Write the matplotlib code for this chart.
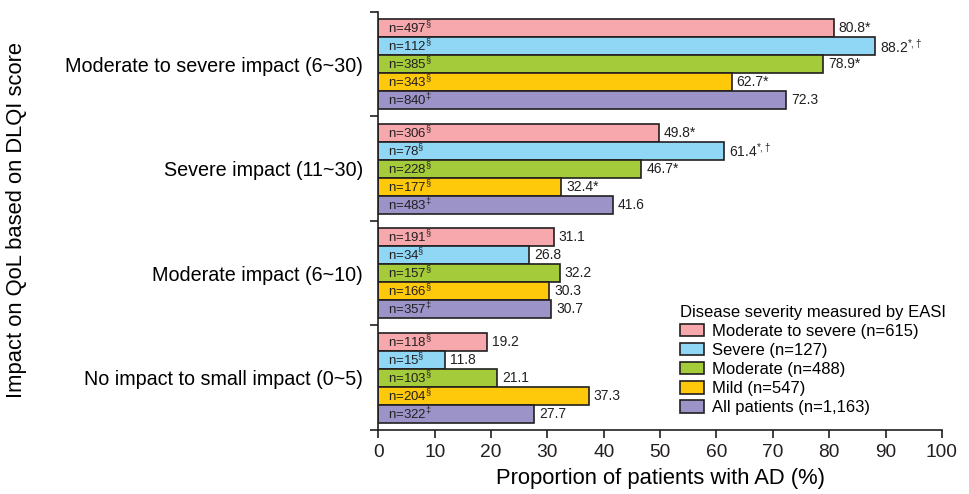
import numpy as np
import matplotlib
matplotlib.use('Agg')
import matplotlib.pyplot as plt
from matplotlib.patches import Patch

# ----------------------------
# Data
# ----------------------------
categories = ["Moderate to severe impact (6~30)", "Severe impact (11~30)",
              "Moderate impact (6~10)", "No impact to small impact (0~5)"]

series_names = ["Moderate to severe (n=615)", "Severe (n=127)", "Moderate (n=488)",
                "Mild (n=547)", "All patients (n=1,163)"]

mod_severe = [80.8, 49.8, 31.1, 19.2]
severe = [88.2, 61.4, 26.8, 11.8]
moderate = [78.9, 46.7, 32.2, 21.1]
mild = [62.7, 32.4, 30.3, 37.3]
all_pat = [72.3, 41.6, 30.7, 27.7]

n_mod_severe = [497, 306, 191, 118]
n_severe = [112, 78, 34, 15]
n_moderate = [385, 228, 157, 103]
n_mild = [343, 177, 166, 204]
n_all = [840, 483, 357, 322]

n_marks = ["§", "§", "§", "§", "‡"]

# significance marks on value labels (series x group)
val_marks = [["*", "*", "", ""],
             ["*,†", "*,†", "", ""],
             ["*", "*", "", ""],
             ["*", "*", "", ""],
             ["", "", "", ""]]

colors = ["#F7A8AD", "#8FD7F5", "#A4CB3A", "#FFC90B", "#9C94C9"]
edge = "#231F20"

values = [mod_severe, severe, moderate, mild, all_pat]
counts = [n_mod_severe, n_severe, n_moderate, n_mild, n_all]

# ----------------------------
# Style
# ----------------------------
plt.rcParams['font.family'] = ['Liberation Sans', 'DejaVu Sans']
plt.rcParams['mathtext.fontset'] = 'custom'
plt.rcParams['mathtext.rm'] = 'Liberation Sans'
plt.rcParams['mathtext.it'] = 'Liberation Sans'
plt.rcParams['mathtext.default'] = 'rm'

fig = plt.figure(figsize=(9.7, 4.94), dpi=100)
ax = fig.add_axes([0.39, 0.1296, 0.581, 0.8461])

bar_h = 0.172
group_pos = np.arange(len(categories))

for i, (vals, ns) in enumerate(zip(values, counts)):
    y = group_pos - 2 * bar_h + i * bar_h
    ax.barh(y, vals, height=bar_h, color=colors[i], edgecolor=edge,
            linewidth=1.2, label=series_names[i])
    for j in range(len(categories)):
        ax.text(1.7, y[j], f"n={ns[j]}$^{{{n_marks[i]}}}$", va='center',
                ha='left', fontsize=9.5, color='#231F20')
        mark = val_marks[i][j]
        if mark == "*":
            lbl = f"{vals[j]}*"
        elif mark:
            lbl = f"{vals[j]}$^{{{mark}}}$"
        else:
            lbl = f"{vals[j]}"
        ax.text(vals[j] + 0.9, y[j], lbl, va='center', ha='left',
                fontsize=10, color='#231F20')

ax.set_xlim(0, 100)
ax.set_ylim(3.5, -0.5)
ax.set_xticks(np.arange(0, 101, 10))
ax.tick_params(axis='x', labelsize=13.8, length=6, width=1.2, pad=4, colors='#231F20')

ax.set_yticks(group_pos)
ax.set_yticklabels(categories)
ax.tick_params(axis='y', which='major', length=0, labelsize=14.2, pad=11)
ax.set_yticks([-0.5, 0.5, 1.5, 2.5, 3.5], minor=True)
ax.tick_params(axis='y', which='minor', length=6, width=1.2, color='#231F20')

for s in ['top', 'right']:
    ax.spines[s].set_visible(False)
for s in ['left', 'bottom']:
    ax.spines[s].set_linewidth(1.2)
    ax.spines[s].set_color('#231F20')

ax.set_xlabel("Proportion of patients with AD (%)", fontsize=15.8, labelpad=5)
fig.text(0.017, 0.555, "Impact on QoL based on DLQI score", rotation=90,
         fontsize=15.8, va='center', ha='center')

handles = [Patch(facecolor=c, edgecolor=edge, linewidth=1.2) for c in colors]
leg = ax.legend(handles, series_names, title="Disease severity measured by EASI",
                loc='upper left', bbox_to_anchor=(0.530, 0.308), frameon=False,
                fontsize=12, title_fontsize=12, handlelength=1.45, handleheight=0.75,
                handletextpad=0.45, labelspacing=0.25, borderpad=0.2,
                borderaxespad=0.0)
leg._legend_box.align = "left"

plt.savefig("out.png", dpi=100)
plt.close()
